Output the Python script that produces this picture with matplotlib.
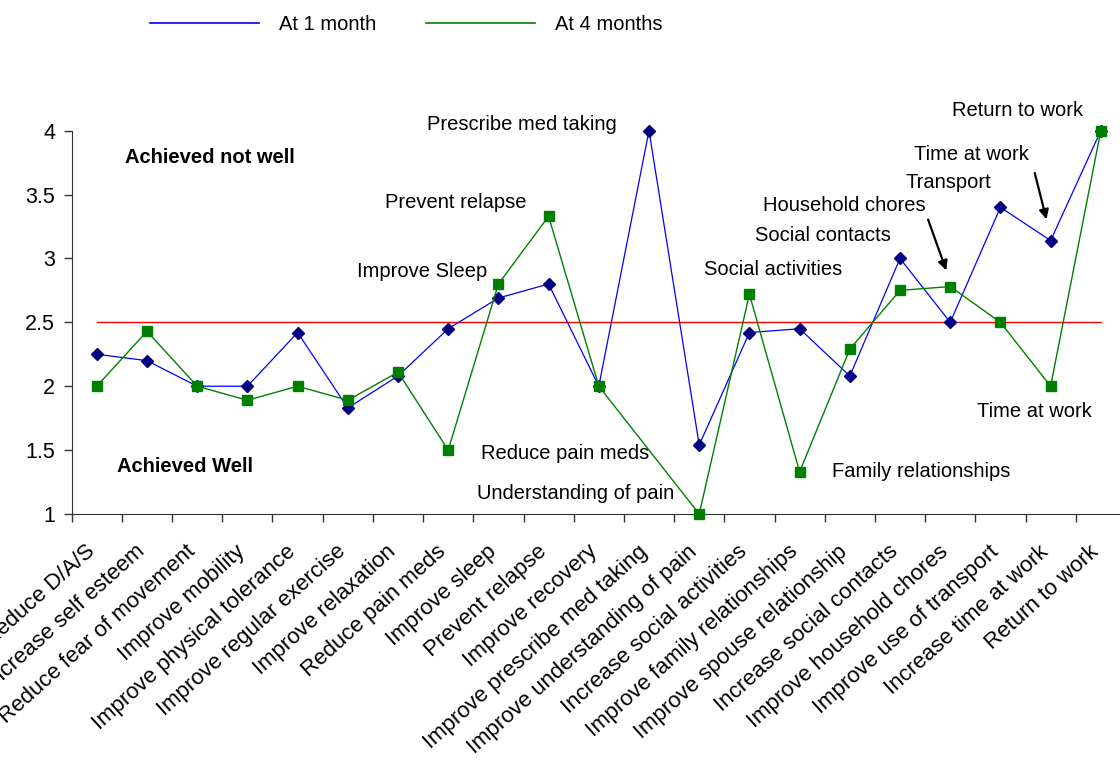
import matplotlib.pyplot as plt
from matplotlib.lines import Line2D
from matplotlib.ticker import FixedLocator
import numpy as np

plt.rcParams['font.family'] = ['Liberation Sans', 'DejaVu Sans']

goals = ['Reduce D/A/S', 'Increase self esteem', 'Reduce fear of movement',
         'Improve mobility', 'Improve physical tolerance', 'Improve regular exercise',
         'Improve relaxation', 'Reduce pain meds', 'Improve sleep', 'Prevent relapse',
         'Improve recovery', 'Improve prescribe med taking', 'Improve understanding of pain',
         'Increase social activities', 'Improve family relationships',
         'Improve spouse relationship', 'Increase social contacts',
         'Improve household chores', 'Improve use of transport',
         'Increase time at work', 'Return to work']

month1 = [2.25, 2.20, 2.00, 2.00, 2.42, 1.83, 2.08, 2.45, 2.69, 2.80, 2.00,
          4.00, 1.54, 2.42, 2.45, 2.08, 3.00, 2.50, 3.40, 3.14, 4.00]
# no 4-month score for prescribed med taking
month4 = [2.00, 2.43, 2.00, 1.89, 2.00, 1.89, 2.11, 1.50, 2.80, 3.33, 2.00,
          np.nan, 1.00, 2.72, 1.33, 2.29, 2.75, 2.78, 2.50, 2.00, 4.00]
threshold = 2.5

x = np.arange(len(goals))
m4 = np.array(month4)
ok = ~np.isnan(m4)

fig = plt.figure(figsize=(11.2, 7.69), dpi=100)
ax = fig.add_axes([0.064, 0.3316, 0.9413, 0.4985])

ax.plot(x, [threshold] * len(x), color='#ff0000', lw=1.0, zorder=2)
ax.plot(x, month1, color='#0000ff', lw=0.9, marker='D', ms=5.8,
        mfc='#000080', mec='#000080', zorder=3, clip_on=False)
ax.plot(x[ok], m4[ok], color='#008000', lw=1.0, marker='s', ms=7,
        mfc='#008000', mec='#008000', zorder=3, clip_on=False)

ax.set_xlim(-0.5, len(goals) - 0.5)
ax.set_ylim(1, 4)
ax.set_yticks([1, 1.5, 2, 2.5, 3, 3.5, 4])
ax.set_yticklabels(['1', '1.5', '2', '2.5', '3', '3.5', '4'], fontsize=15.5)
ax.set_xticks(x)
ax.set_xticklabels([])
ax.xaxis.set_minor_locator(FixedLocator(np.arange(-0.5, len(goals), 1)))
ax.tick_params(axis='x', which='major', length=0)
ax.tick_params(axis='x', which='minor', length=6, width=1, color='#333333')
ax.tick_params(axis='y', length=6, width=1, color='#333333', pad=6)
for side in ['top', 'right']:
    ax.spines[side].set_visible(False)
for side in ['left', 'bottom']:
    ax.spines[side].set_color('#333333')

# slanted category names under each point
for i, name in zip(x, goals):
    ax.annotate(name, xy=(i, 0), xycoords=('data', 'axes fraction'),
                xytext=(-8.5, -19.5), textcoords='offset points',
                rotation=42, rotation_mode='anchor', ha='right', va='top',
                fontsize=16, annotation_clip=False)

# point labels
tkw = dict(fontsize=14.5, ha='center', va='center', zorder=5)
ax.text(8.46, 4.05, 'Prescribe med taking', **tkw)
ax.text(7.16, 3.434, 'Prevent relapse', **tkw)
ax.text(6.48, 2.895, 'Improve Sleep',
        bbox=dict(facecolor='white', edgecolor='none', pad=4), **tkw)
ax.text(9.33, 1.477, 'Reduce pain meds', **tkw)
ax.text(9.53, 1.157, 'Understanding of pain', **tkw)
ax.text(13.47, 2.91, 'Social activities', **tkw)
ax.text(14.47, 3.176, 'Social contacts', **tkw)
ax.text(14.89, 3.418, 'Household chores', **tkw)
ax.text(16.96, 3.598, 'Transport', **tkw)
ax.text(17.42, 3.81, 'Time at work', **tkw)
ax.text(18.34, 4.16, 'Return to work', **tkw)
ax.text(18.68, 1.80, 'Time at work', **tkw)
ax.text(16.42, 1.33, 'Family relationships', **tkw)

ax.text(2.26, 3.786, 'Achieved not well', fontsize=14.5, fontweight='bold',
        ha='center', va='center')
ax.text(1.76, 1.37, 'Achieved Well', fontsize=14.5, fontweight='bold',
        ha='center', va='center')

akw = dict(arrowstyle='-|>', color='black', lw=1.6, mutation_scale=14)
ax.annotate('', xy=(16.94, 2.886), xytext=(16.54, 3.325), arrowprops=akw)
ax.annotate('', xy=(18.93, 3.285), xytext=(18.67, 3.69), arrowprops=akw)

handles = [Line2D([], [], color='#0000ff', lw=1.2),
           Line2D([], [], color='#008000', lw=1.2)]
fig.legend(handles, ['At 1 month', 'At 4 months'], loc='center left',
           bbox_to_anchor=(0.118, 0.968), ncol=2, frameon=False, fontsize=14.5,
           handlelength=5.4, handletextpad=1.0, columnspacing=2.45)

fig.savefig('out.png', dpi=100)
